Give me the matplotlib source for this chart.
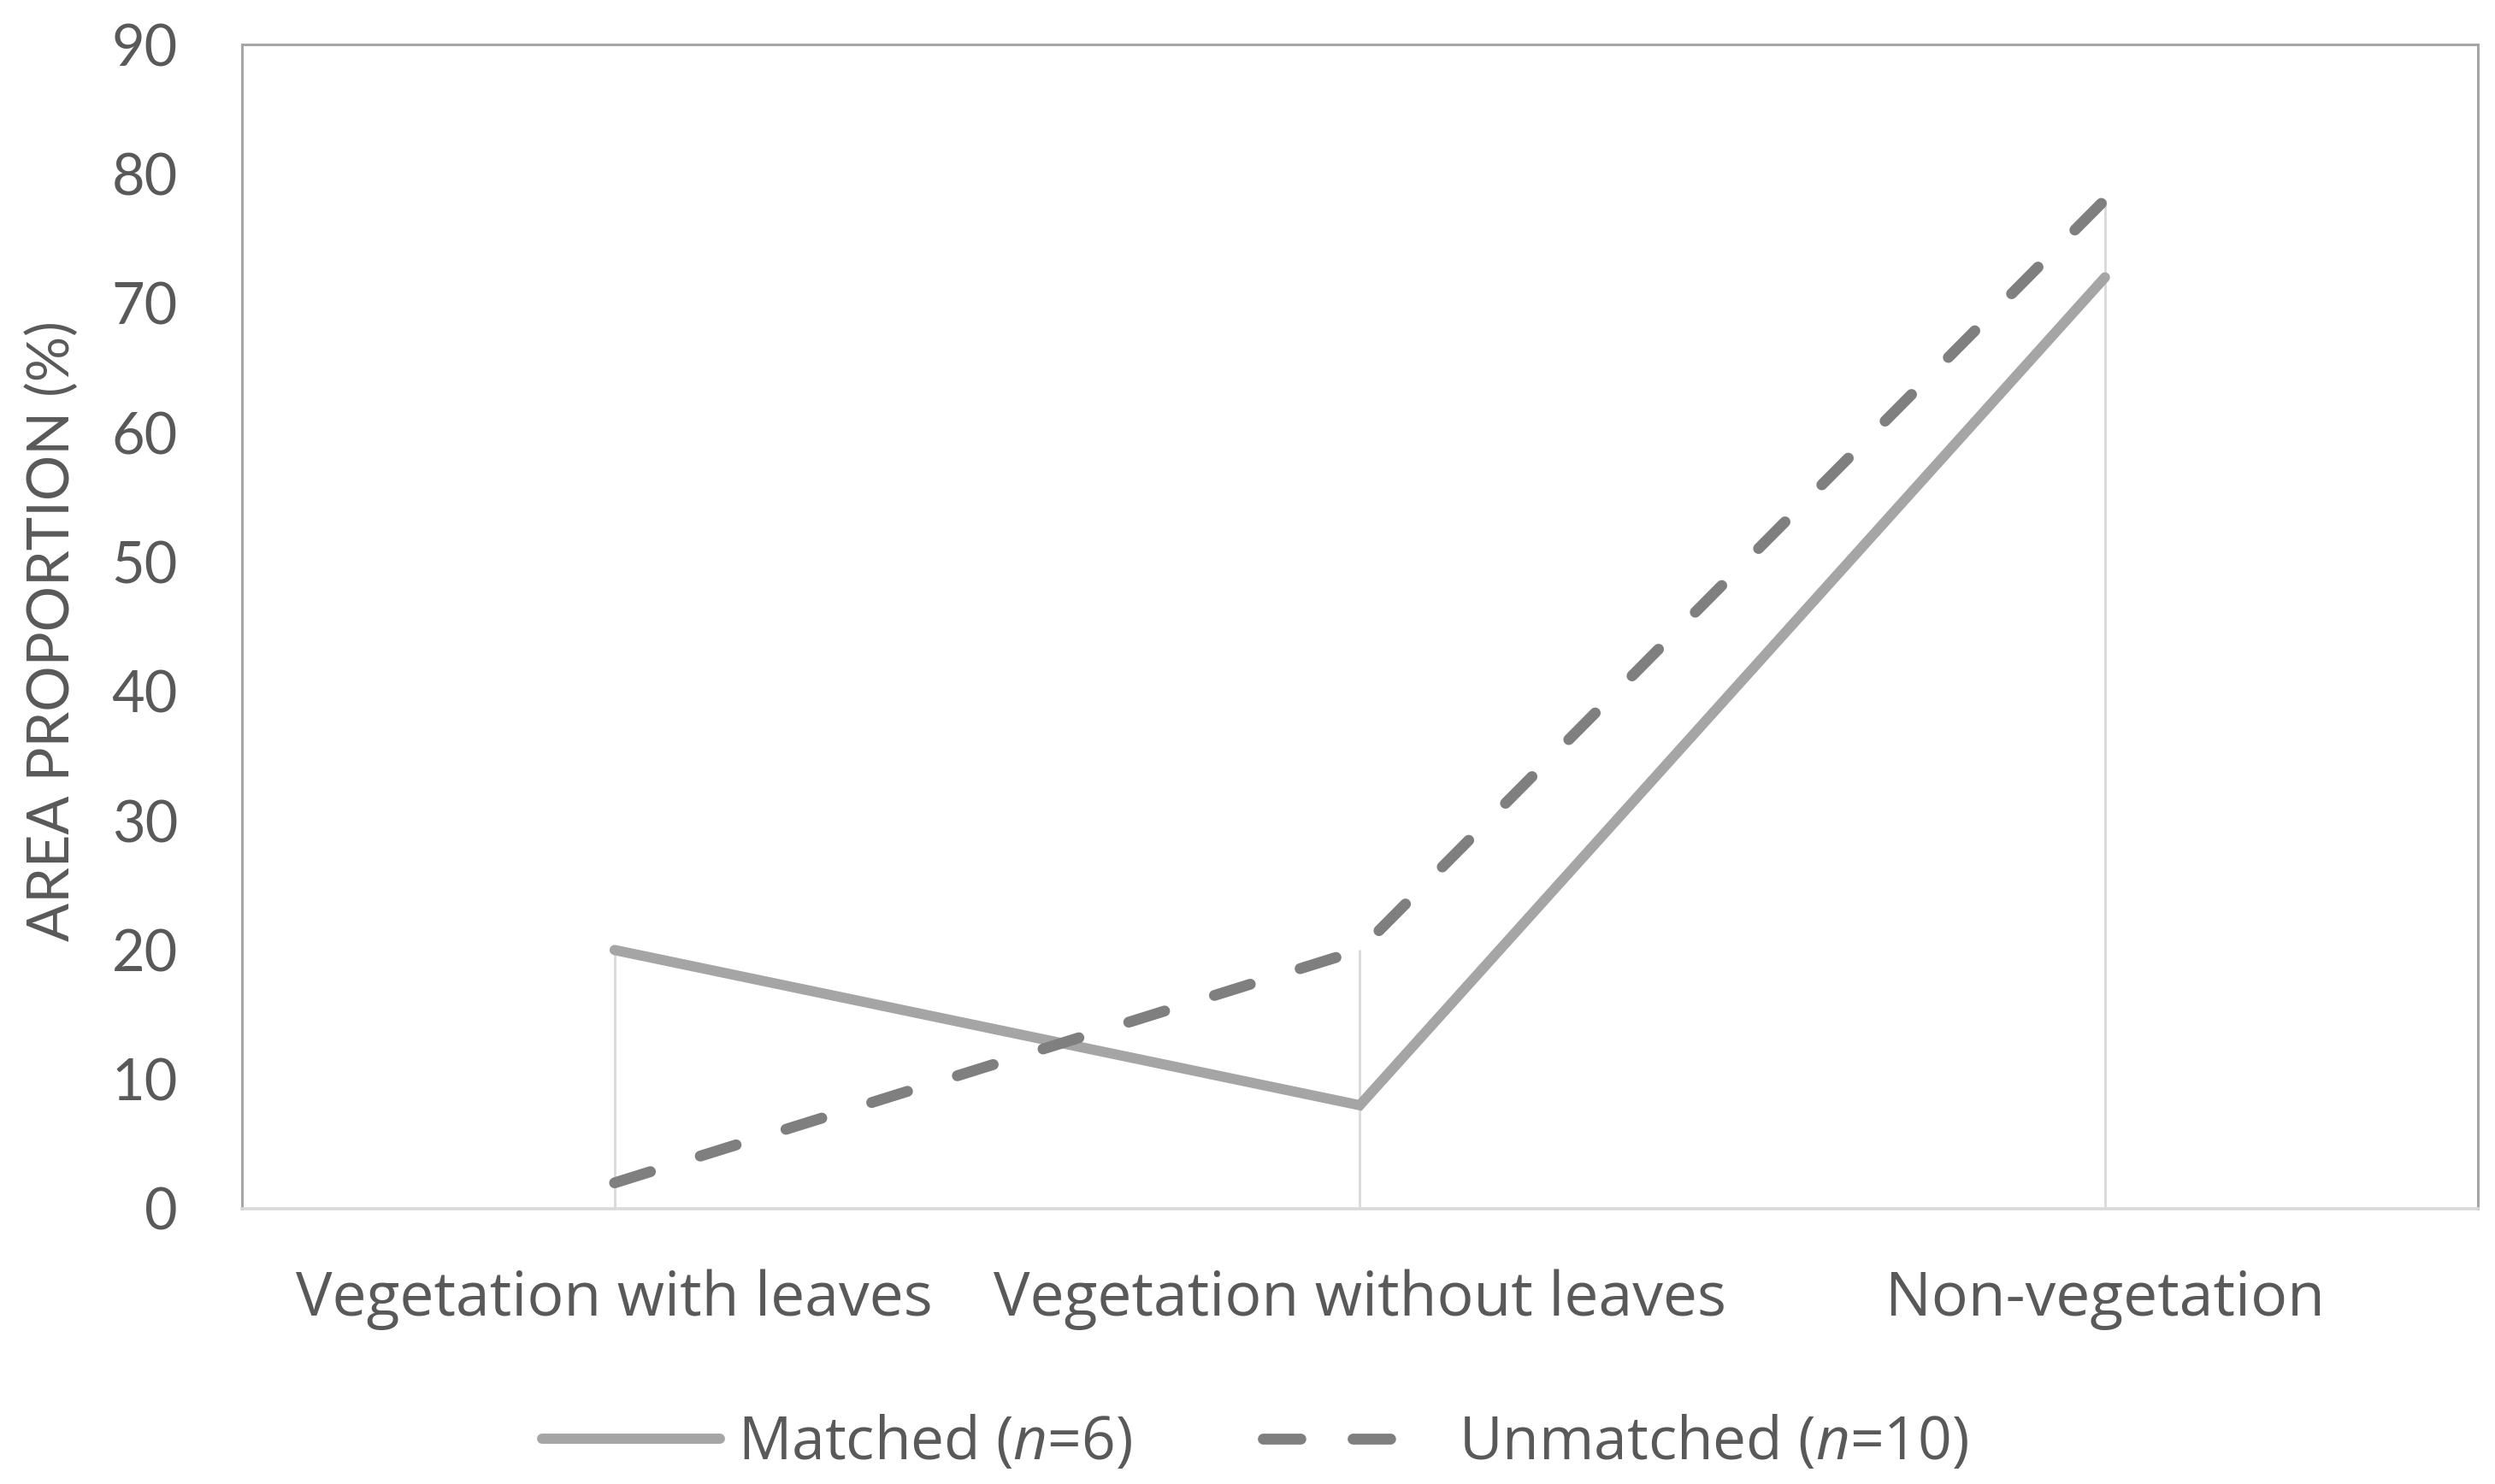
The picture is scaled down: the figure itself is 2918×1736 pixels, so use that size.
import matplotlib.pyplot as plt
import numpy as np

## datos
categorias = ["Vegetation with leaves", "Vegetation without leaves", "Non-vegetation"]
matched = [20, 8, 72]
unmatched = [2, 20, 78]
yticks = [0, 10, 20, 30, 40, 50, 60, 70, 80, 90]

plt.rcParams['font.family'] = ['Lato', 'DejaVu Sans']
plt.rcParams['mathtext.fontset'] = 'custom'
plt.rcParams['mathtext.it'] = 'Open Sans:italic'
plt.rcParams['mathtext.rm'] = 'Open Sans'

texto = "#595959"

fig = plt.figure(figsize=(14.59, 8.68), dpi=200)
ax = fig.add_axes([0.097, 0.1855, 0.896, 0.7845])

x = np.arange(len(categorias))

## lineas de caida desde el valor mas alto
ax.vlines(x, 0, np.maximum(matched, unmatched), color="#d9d9d9", lw=1.0, zorder=1)

ax.plot(x, matched, color="#a5a5a5", lw=4.3, solid_capstyle="round",
        solid_joinstyle="miter", label="Matched ($\\it{n}$=6)", zorder=3)
lw_u = 4.6
ax.plot(x, unmatched, color="#7f7f7f", lw=lw_u, dash_capstyle="round",
        dashes=(15.8 / lw_u, 22.0 / lw_u), label="Unmatched ($\\it{n}$=10)", zorder=4)

ax.set_xlim(-0.5, 2.5)
ax.set_ylim(0, 90)
ax.set_xticks(x)
ax.set_xticklabels(categorias, family=["Open Sans", "DejaVu Sans"])
ax.set_yticks(yticks)
ax.tick_params(axis="both", length=0, labelsize=24, colors=texto)
ax.tick_params(axis="x", labelsize=25.7, pad=25.5)
ax.tick_params(axis="y", pad=27)

for lado in ["left", "top", "right"]:
    ax.spines[lado].set_color("#a6a6a6")
    ax.spines[lado].set_linewidth(1.1)
ax.spines["bottom"].set_color("#d9d9d9")
ax.spines["bottom"].set_linewidth(1.3)

fig.text(0.021, 0.575, "AREA PROPORTION (%)", rotation=90, fontsize=24,
         color=texto, ha="center", va="center")

leg = fig.legend(loc="center", bbox_to_anchor=(0.503, 0.027), ncol=2,
                 frameon=False, handlelength=3.0,
                 prop={"family": ["Open Sans", "DejaVu Sans"], "size": 25},
                 handletextpad=0.3, columnspacing=2.2)
for t in leg.get_texts():
    t.set_color(texto)

fig.savefig("out.png", dpi=200, facecolor="white")
